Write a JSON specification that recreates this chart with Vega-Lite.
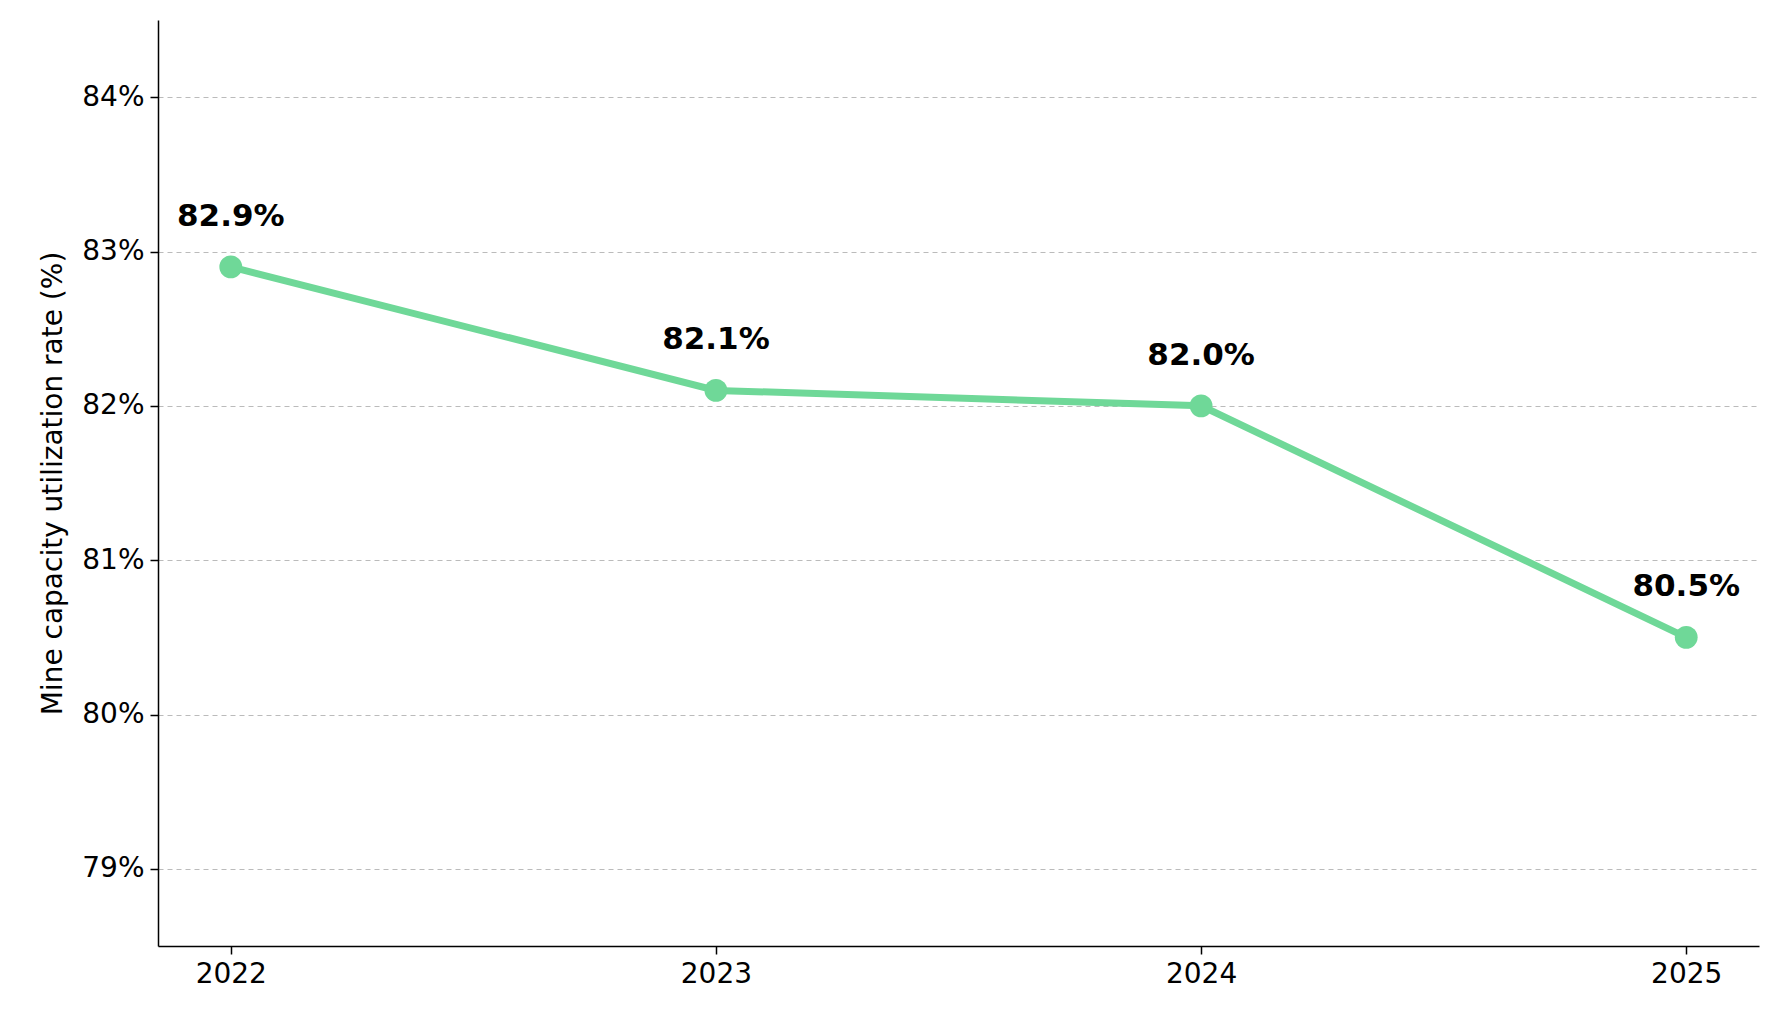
{
  "$schema": "https://vega.github.io/schema/vega-lite/v6.json",
  "autosize": {"type": "none"},
  "padding": {"left": 158, "top": 20, "right": 20, "bottom": 73},
  "width": 1601,
  "height": 926,
  "background": "white",
  "config": {
    "font": "DejaVu Sans",
    "view": {"stroke": null},
    "axis": {"labelFont": "DejaVu Sans", "titleFont": "DejaVu Sans", "domainColor": "black", "domainWidth": 1.5, "tickColor": "black", "tickWidth": 1.5, "labelColor": "black", "titleColor": "black"}
  },
  "data": {
    "values": [
      {"year": "2022", "rate": 82.9},
      {"year": "2023", "rate": 82.1},
      {"year": "2024", "rate": 82.0},
      {"year": "2025", "rate": 80.5}
    ]
  },
  "encoding": {
    "x": {
      "field": "year", "type": "ordinal",
      "scale": {"type": "point", "padding": 0.15},
      "axis": {"title": null, "labelAngle": 0, "labelFontSize": 28, "tickSize": 8, "labelPadding": 6, "grid": false}
    },
    "y": {
      "field": "rate", "type": "quantitative",
      "scale": {"domain": [78.5, 84.5], "nice": false, "zero": false},
      "axis": {
        "title": "Mine capacity utilization rate (%)", "titleFontSize": 28, "titleFontWeight": "normal", "titlePadding": 14,
        "values": [79, 80, 81, 82, 83, 84], "labelExpr": "datum.value + '%'",
        "labelFontSize": 28, "tickSize": 8, "labelPadding": 6,
        "grid": true, "gridDash": [5, 4], "gridColor": "#bbbbbb", "gridWidth": 1.2
      }
    }
  },
  "layer": [
    {"mark": {"type": "line", "color": "#6fd898", "strokeWidth": 7}},
    {"mark": {"type": "circle", "color": "#6fd898", "size": 520, "opacity": 1}},
    {
      "mark": {"type": "text", "dy": -50, "fontSize": 31, "fontWeight": "bold", "color": "black"},
      "encoding": {"text": {"field": "rate", "type": "nominal"}, "text": {"field": "label", "type": "nominal"}},
      "transform": [{"calculate": "format(datum.rate, '.1f') + '%'", "as": "label"}]
    }
  ]
}
